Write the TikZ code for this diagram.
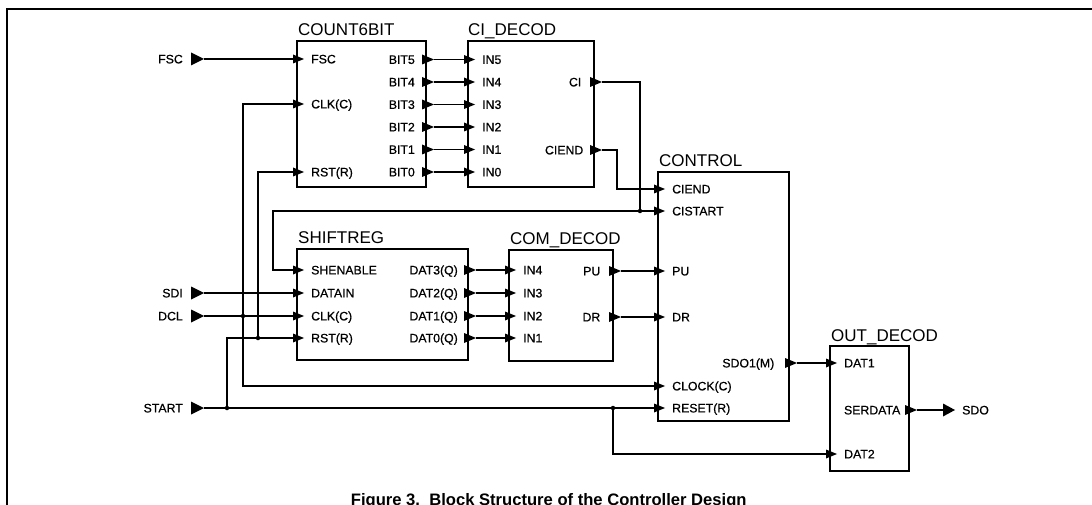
\documentclass[tikz,border=0pt]{standalone}
\usepackage{fontspec}
\setmainfont{Liberation Sans}
\newfontfamily\labfont[FakeBold=0.6]{Liberation Sans}
\newcommand\myin[4]{% name, edge x, y, label
  \coordinate (#1) at (#2-4,#3);
  \fill (#2-4,#3-4.5) -- (#2+7,#3) -- (#2-4,#3+4.5) -- cycle;
  \node[lab, anchor=west] (#1-l) at (#2+14,#3) {#4};}
\newcommand\myout[5]{% name, edge x, y, label, label offset
  \coordinate (#1) at (#2+8,#3);
  \fill (#2-4,#3-5) -- (#2+8,#3) -- (#2-4,#3+5) -- cycle;
  \node[lab, anchor=east] (#1-l) at (#2-#5,#3) {#4};}
\newcommand\myext[3]{% name, y, label
  \node[lab, anchor=east] (#1-l) at (183,#2) {#3};
  \fill (191,#2-6.5) -- (204,#2) -- (191,#2+6.5) -- cycle;
  \coordinate (#1) at (204,#2);}
\begin{document}
\begin{tikzpicture}[x=1pt,y=-1pt,
  blk/.style={draw, line width=2pt, inner sep=0pt, outer sep=0pt, anchor=north west},
  wire/.style={line width=1.2pt},
  lab/.style={inner sep=0pt, font=\labfont\fontsize{12.3}{14}\selectfont, text height=8.8pt, text depth=0pt},
  ttl/.style={inner sep=0pt, anchor=base west, font=\fontsize{17}{20}\selectfont},
  jdot/.style={circle, fill, inner sep=0pt, minimum size=4.5pt},
]
\clip (0,0) rectangle (1092,505);
\fill[white] (0,0) rectangle (1092,505);
% frame
\draw[line width=2pt] (7.3,506) -- (7.3,9.3) -- (1093,9.3);

% blocks
\node[blk, minimum width=129pt, minimum height=146pt] (C6) at (297,41) {};
\node[ttl] (C6t) at (298,35.5) {COUNT6BIT};
\node[blk, minimum width=126pt, minimum height=146pt] (CI) at (468,41) {};
\node[ttl] (CIt) at (468,35.5) {CI\_DECOD};
\node[blk, minimum width=171pt, minimum height=111pt] (SR) at (297,249) {};
\node[ttl] (SRt) at (298,243.3) {SHIFTREG};
\node[blk, minimum width=104pt, minimum height=111pt] (CD) at (509,250) {};
\node[ttl] (CDt) at (510,244) {COM\_DECOD};
\node[blk, minimum width=131pt, minimum height=249pt] (CT) at (658,172) {};
\node[ttl] (CTt) at (659,166.7) {CONTROL};
\node[blk, minimum width=79pt, minimum height=125pt] (OD) at (830,346) {};
\node[ttl] (ODt) at (831,341.7) {OUT\_DECOD};

% COUNT6BIT ports
\myin{c6-fsc}{297}{59}{FSC}
\myin{c6-clk}{297}{104}{CLK(C)}
\myin{c6-rst}{297}{172}{RST(R)}
\myout{c6-b5}{426}{59.5}{BIT5}{11}
\myout{c6-b4}{426}{82}{BIT4}{11}
\myout{c6-b3}{426}{104.5}{BIT3}{11}
\myout{c6-b2}{426}{127}{BIT2}{11}
\myout{c6-b1}{426}{149.5}{BIT1}{11}
\myout{c6-b0}{426}{172}{BIT0}{11}
% CI_DECOD ports
\myin{ci-i5}{468}{59.5}{IN5}
\myin{ci-i4}{468}{82}{IN4}
\myin{ci-i3}{468}{104.5}{IN3}
\myin{ci-i2}{468}{127}{IN2}
\myin{ci-i1}{468}{149.5}{IN1}
\myin{ci-i0}{468}{172}{IN0}
\myout{ci-ci}{594}{82}{CI}{12.5}
\myout{ci-ciend}{594}{150}{CIEND}{10.5}
% SHIFTREG ports
\myin{sr-shen}{297}{270}{SHENABLE}
\myin{sr-din}{297}{293}{DATAIN}
\myin{sr-clk}{297}{316}{CLK(C)}
\myin{sr-rst}{297}{338}{RST(R)}
\myout{sr-d3}{468}{270}{DAT3(Q)}{10}
\myout{sr-d2}{468}{293}{DAT2(Q)}{10}
\myout{sr-d1}{468}{316}{DAT1(Q)}{10}
\myout{sr-d0}{468}{338}{DAT0(Q)}{10}
% COM_DECOD ports
\myin{cd-i4}{509}{270}{IN4}
\myin{cd-i3}{509}{293}{IN3}
\myin{cd-i2}{509}{316}{IN2}
\myin{cd-i1}{509}{338}{IN1}
\myout{cd-pu}{613}{271}{PU}{12.5}
\myout{cd-dr}{613}{317}{DR}{12.5}
% CONTROL ports
\myin{ct-ciend}{658}{189}{CIEND}
\myin{ct-cist}{658}{211}{CISTART}
\myin{ct-pu}{658}{271}{PU}
\myin{ct-dr}{658}{317}{DR}
\myin{ct-clk}{658}{386}{CLOCK(C)}
\myin{ct-rst}{658}{408}{RESET(R)}
\myout{ct-sdo}{789}{363}{SDO1(M)}{14.5}
% OUT_DECOD ports
\myin{od-dat1}{830}{363}{DAT1}
\myin{od-dat2}{830}{454}{DAT2}
\myout{od-ser}{909}{410}{SERDATA}{8.5}

% external pins
\myext{x-fsc}{59}{FSC}
\myext{x-sdi}{293}{SDI}
\myext{x-dcl}{316}{DCL}
\myext{x-start}{408}{START}
\coordinate (x-sdo) at (943,410);
\fill (943,403.5) -- (955,410) -- (943,416.5) -- cycle;
\node[lab, anchor=west] (x-sdo-l) at (962,410) {SDO};

% junction / corner coordinates
\coordinate (dclj) at (243,316);
\coordinate (clkb) at (243,386);
\coordinate (stj) at (227,408);
\coordinate (rsj) at (258,338);
\coordinate (dtj) at (613,408);
\coordinate (cij) at (640,211);
\coordinate (shc) at (273,211);
\coordinate (cec) at (617,189);

% wires
\draw[wire] (x-fsc) -- (c6-fsc);
\draw[wire] (x-sdi) -- (sr-din);
\draw[wire] (x-dcl) -- (sr-clk);
\draw[wire] (c6-clk) -| (clkb) -- (ct-clk);
\draw[wire] (x-start) -- (ct-rst);
\draw[wire] (stj) |- (sr-rst);
\draw[wire] (rsj) |- (c6-rst);
\draw[wire] (dtj) |- (od-dat2);
\draw[wire] (ci-ci) -| (cij) -- (ct-cist);
\draw[wire] (cij) -- (shc) |- (sr-shen);
\draw[wire] (ci-ciend) -| (cec) -- (ct-ciend);
\draw[wire] (c6-b5) -- (ci-i5);
\draw[wire] (c6-b4) -- (ci-i4);
\draw[wire] (c6-b3) -- (ci-i3);
\draw[wire] (c6-b2) -- (ci-i2);
\draw[wire] (c6-b1) -- (ci-i1);
\draw[wire] (c6-b0) -- (ci-i0);
\draw[wire] (sr-d3) -- (cd-i4);
\draw[wire] (sr-d2) -- (cd-i3);
\draw[wire] (sr-d1) -- (cd-i2);
\draw[wire] (sr-d0) -- (cd-i1);
\draw[wire] (cd-pu) -- (ct-pu);
\draw[wire] (cd-dr) -- (ct-dr);
\draw[wire] (ct-sdo) -- (od-dat1);
\draw[wire] (od-ser) -- (x-sdo);

% junction dots
\node[jdot] (j1) at (dclj) {};
\node[jdot] (j2) at (stj) {};
\node[jdot] (j3) at (rsj) {};
\node[jdot] (j4) at (dtj) {};
\node[jdot] (j5) at (cij) {};

% caption
\node[inner sep=0pt, anchor=base west, font=\bfseries\fontsize{16.6}{19}\selectfont] (cap) at (350.7,505.5) {Figure 3.\ \ Block Structure of the Controller Design};
\end{tikzpicture}
\end{document}
